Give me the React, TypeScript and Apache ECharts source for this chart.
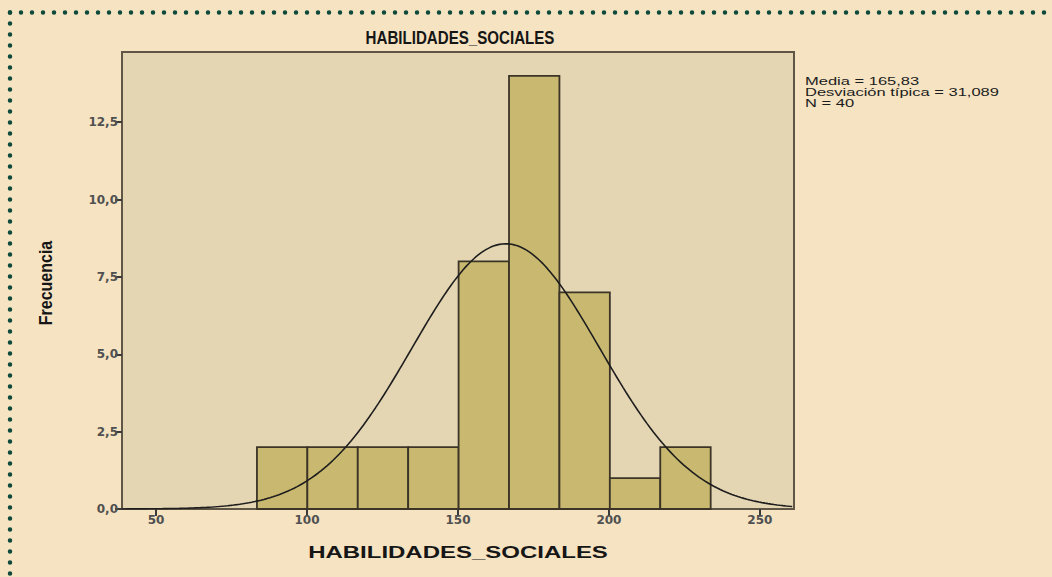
import React, { useEffect, useRef } from "react";
import * as echarts from "echarts";

// ---- data ----
const binStarts = [83.4, 100.1, 116.8, 133.5, 150.2, 166.9, 183.6, 200.3, 217.0];
const binEnds = [100.1, 116.8, 133.5, 150.2, 166.9, 183.6, 200.3, 217.0, 233.7];
const counts = [2, 2, 2, 2, 8, 14, 7, 1, 2];
const xTicks = [50, 100, 150, 200, 250];
const yTicks = [0, 2.5, 5, 7.5, 10, 12.5];
const MEAN = 165.83;
const SD = 31.089;
const N = 40;
const BIN_WIDTH = 16.7;
const X_MIN = 38.7;
const X_MAX = 261.3;
const Y_MAX = 14.77;
const titleText = "HABILIDADES_SOCIALES";
const yTitle = "Frecuencia";
const statsLines = ["Media = 165,83", "Desviación típica = 31,089", "N = 40"];

// fitted normal curve (SPSS overlay) from the displayed statistics
const curve: number[][] = [];
for (let x = X_MIN; x <= X_MAX + 0.001; x += 1) {
  const z = (x - MEAN) / SD;
  curve.push([x, (N * BIN_WIDTH) / (SD * Math.sqrt(2 * Math.PI)) * Math.exp(-0.5 * z * z)]);
}

const fmt = (v: number) => v.toFixed(1).replace(".", ",");

export default function App() {
  const ref = useRef<HTMLDivElement>(null);
  useEffect(() => {
    document.body.style.margin = "0";
    const chart = echarts.init(ref.current!, null, { renderer: "svg" });
    const dotColor = "#0e4a3b";
    chart.setOption({
      animation: false,
      backgroundColor: "#f5e3c2",
      grid: {
        left: 122,
        top: 52,
        width: 672,
        height: 457,
        show: true,
        backgroundColor: "#e4d5b3",
        borderColor: "#5f5646",
        borderWidth: 2,
      },
      xAxis: {
        type: "value",
        min: X_MIN,
        max: X_MAX,
        splitLine: { show: false },
        axisLine: { show: false },
        axisTick: {
          show: true,
          length: 7,
          lineStyle: { color: "#3a3a3a", width: 2 },
          customValues: xTicks,
        },
        axisLabel: {
          customValues: xTicks,
          margin: 5,
          fontSize: 12,
          fontWeight: "bold",
          fontFamily: "DejaVu Sans",
          color: "#505050",
        },
      },
      yAxis: {
        type: "value",
        min: 0,
        max: Y_MAX,
        splitLine: { show: false },
        axisLine: { show: false },
        axisTick: {
          show: true,
          length: 7,
          lineStyle: { color: "#3a3a3a", width: 2 },
          customValues: yTicks,
        },
        axisLabel: {
          customValues: yTicks,
          margin: 4,
          fontSize: 12,
          fontWeight: "bold",
          fontFamily: "DejaVu Sans",
          color: "#505050",
          formatter: (v: number) => fmt(v),
        },
      },
      series: [
        {
          type: "custom",
          data: binStarts.map((s, i) => [s, binEnds[i], counts[i]]),
          encode: { x: [0, 1], y: 2 },
          renderItem: (params: any, api: any) => {
            const p0 = api.coord([api.value(0), api.value(2)]);
            const p1 = api.coord([api.value(1), 0]);
            return {
              type: "rect",
              shape: { x: p0[0], y: p0[1], width: p1[0] - p0[0], height: p1[1] - p0[1] },
              style: { fill: "#c9b86f", stroke: "#3b3427", lineWidth: 1.8 },
            };
          },
        },
        {
          type: "line",
          data: curve,
          showSymbol: false,
          symbol: "none",
          lineStyle: { color: "#1e1e1e", width: 1.6 },
          z: 5,
        },
      ],
      graphic: [
        {
          type: "line",
          shape: { x1: 10, y1: 12.5, x2: 1052, y2: 12.5 },
          style: { stroke: dotColor, lineWidth: 4.5, lineDash: [0, 11], lineCap: "round" },
        },
        {
          type: "line",
          shape: { x1: 10, y1: 12.5, x2: 10, y2: 577 },
          style: { stroke: dotColor, lineWidth: 4.5, lineDash: [0, 11], lineCap: "round" },
        },
        {
          type: "text",
          x: 460,
          y: 38,
          scaleX: 0.84,
          style: {
            text: titleText,
            fontSize: 18,
            fontWeight: "bold",
            fontFamily: "Liberation Sans",
            fill: "#161616",
            textAlign: "center",
            textVerticalAlign: "middle",
          },
        },
        {
          type: "text",
          x: 458,
          y: 553,
          scaleX: 1.5,
          style: {
            text: titleText,
            fontSize: 16,
            fontWeight: "bold",
            fontFamily: "Liberation Sans",
            fill: "#161616",
            textAlign: "center",
            textVerticalAlign: "middle",
          },
        },
        {
          type: "text",
          x: 46,
          y: 283,
          rotation: Math.PI / 2,
          scaleY: 1.15,
          style: {
            text: yTitle,
            fontSize: 16,
            fontWeight: "bold",
            fontFamily: "Liberation Sans",
            fill: "#161616",
            textAlign: "center",
            textVerticalAlign: "middle",
          },
        },
        ...statsLines.map((t, i) => ({
          type: "text",
          x: 805,
          y: 81.5 + i * 11,
          scaleX: 1.5,
          style: {
            text: t,
            fontSize: 11,
            fontFamily: "Liberation Sans",
            fill: "#1c1c1c",
            textAlign: "left",
            textVerticalAlign: "middle",
          },
        })),
      ],
    });
    return () => chart.dispose();
  }, []);
  return (
    <div
      ref={ref}
      style={{ position: "absolute", left: 0, top: 0, width: 1052, height: 577 }}
    />
  );
}
